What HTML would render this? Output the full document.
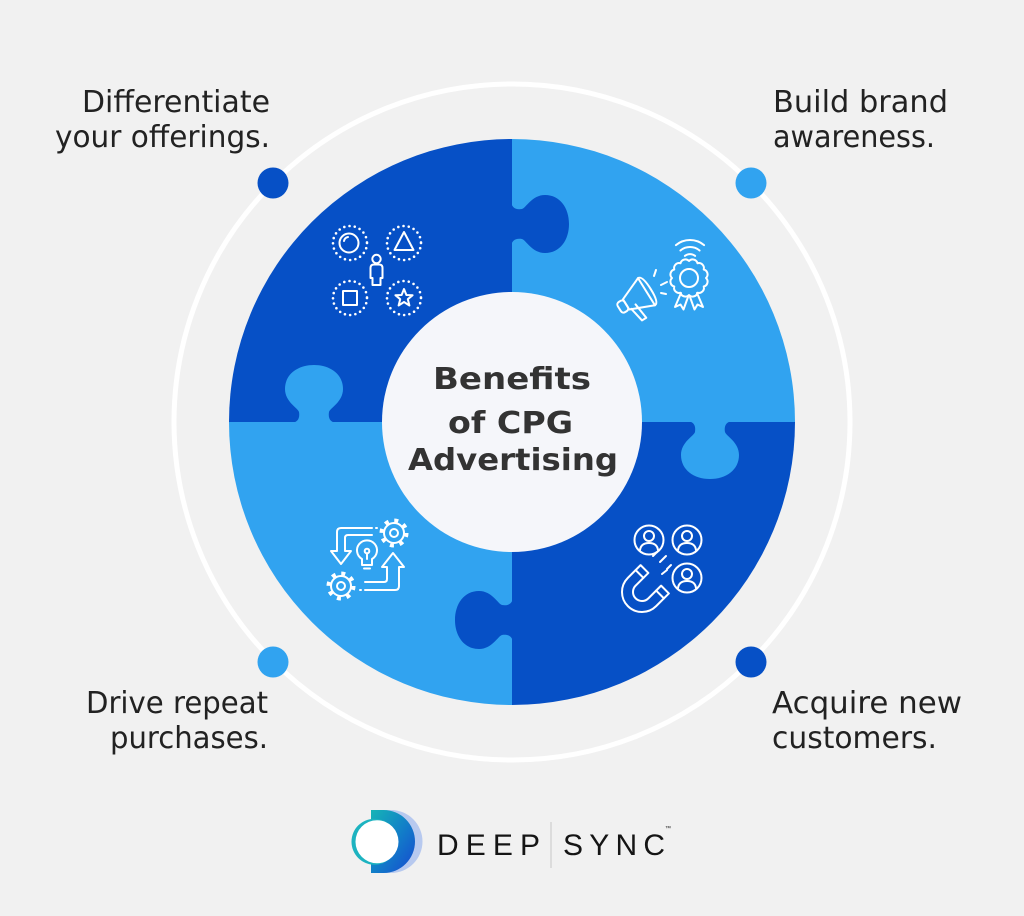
<!DOCTYPE html>
<html>
<head>
<meta charset="utf-8">
<style>
  html,body{margin:0;padding:0;background:#f1f1f1;}
  svg{display:block;}
</style>
</head>
<body>
<svg width="1024" height="916" viewBox="0 0 1024 916" xmlns="http://www.w3.org/2000/svg">
  <defs>
    <clipPath id="c"><circle cx="512" cy="422" r="283"/></clipPath>
    <path id="knob" d="M-24,1 C-16,1 -14,-4 -15,-10 C-16,-14 -29,-20 -29,-33 C-29,-48 -16,-57 0,-57 C16,-57 29,-48 29,-33 C29,-20 16,-14 15,-10 C14,-4 16,1 24,1 Z"/>
    <linearGradient id="lg" x1="0" y1="0" x2="1" y2="1">
      <stop offset="0" stop-color="#16b4b6"/>
      <stop offset="0.5" stop-color="#1280c8"/>
      <stop offset="1" stop-color="#1548d0"/>
    </linearGradient>
  </defs>

  <rect width="1024" height="916" fill="#f1f1f1"/>

  <!-- outer ring -->
  <circle cx="512" cy="422" r="338" fill="none" stroke="#ffffff" stroke-width="5"/>
  <circle cx="273" cy="183" r="15.5" fill="#0650c6"/>
  <circle cx="751" cy="183" r="15.5" fill="#31a3f0"/>
  <circle cx="273" cy="662" r="15.5" fill="#31a3f0"/>
  <circle cx="751" cy="662" r="15.5" fill="#0650c6"/>

  <!-- puzzle -->
  <g clip-path="url(#c)">
    <rect x="229" y="139" width="283" height="283" fill="#0650c6"/>
    <rect x="512" y="139" width="284" height="283" fill="#31a3f0"/>
    <rect x="229" y="422" width="283" height="285" fill="#31a3f0"/>
    <rect x="512" y="422" width="284" height="285" fill="#0650c6"/>
    <use href="#knob" transform="translate(314,422)" fill="#31a3f0"/>
    <use href="#knob" transform="translate(512,224) rotate(90)" fill="#0650c6"/>
    <use href="#knob" transform="translate(710,422) rotate(180)" fill="#31a3f0"/>
    <use href="#knob" transform="translate(512,620) rotate(-90)" fill="#0650c6"/>
  </g>

  <!-- center -->
  <circle cx="512" cy="422" r="130" fill="#f5f6fa"/>
  <g font-family="'DejaVu Sans', 'Liberation Sans', sans-serif" font-weight="bold" font-size="30" fill="#333333" text-anchor="middle">
    <text x="512" y="389" textLength="158" lengthAdjust="spacingAndGlyphs">Benefits</text>
    <text x="510.5" y="433" textLength="125" lengthAdjust="spacingAndGlyphs">of CPG</text>
    <text x="513" y="470" textLength="210" lengthAdjust="spacingAndGlyphs">Advertising</text>
  </g>

  <!-- labels -->
  <g font-family="'DejaVu Sans', 'Liberation Sans', sans-serif" font-size="30" fill="#222222">
    <text x="270" y="112" text-anchor="end" textLength="188" lengthAdjust="spacingAndGlyphs">Differentiate</text>
    <text x="270" y="147" text-anchor="end" textLength="215" lengthAdjust="spacingAndGlyphs">your offerings.</text>
    <text x="773" y="112" textLength="175" lengthAdjust="spacingAndGlyphs">Build brand</text>
    <text x="773" y="147" textLength="162" lengthAdjust="spacingAndGlyphs">awareness.</text>
    <text x="268" y="713" text-anchor="end" textLength="182" lengthAdjust="spacingAndGlyphs">Drive repeat</text>
    <text x="268" y="748" text-anchor="end" textLength="158" lengthAdjust="spacingAndGlyphs">purchases.</text>
    <text x="772" y="713" textLength="190" lengthAdjust="spacingAndGlyphs">Acquire new</text>
    <text x="772" y="748" textLength="165" lengthAdjust="spacingAndGlyphs">customers.</text>
  </g>

  <!-- TL icon -->
  <g fill="none" stroke="#ffffff" stroke-width="2" stroke-linecap="round" stroke-linejoin="round">
    <g stroke-width="2.6" stroke-dasharray="0 5.3">
      <circle cx="350" cy="243" r="17"/>
      <circle cx="404" cy="243" r="17"/>
      <circle cx="350" cy="298" r="17"/>
      <circle cx="404" cy="298" r="17"/>
    </g>
    <circle cx="349" cy="243" r="9.5"/>
    <path d="M344,241 A5,5 0 0 1 348,237"/>
    <path d="M404,232 L394.5,250 L413.5,250 Z"/>
    <rect x="343" y="291" width="14" height="14"/>
    <path d="M404,289 L406.4,295 L412.6,295.2 L407.8,299.2 L409.4,305.5 L404,302 L398.6,305.5 L400.2,299.2 L395.4,295.2 L401.6,295 Z"/>
    <circle cx="376.5" cy="259" r="4.2"/>
    <path d="M370.5,278 V268 Q370.5,264.5 374,264.5 H379 Q382.5,264.5 382.5,268 V278 H380.5 V285 H372.5 V278 Z"/>
  </g>

  <!-- TR icon -->
  <g fill="none" stroke="#ffffff" stroke-width="2" stroke-linecap="round" stroke-linejoin="round">
    <g transform="translate(638,297) rotate(-32)">
      <rect x="-22" y="-6" width="8" height="12" rx="3"/>
      <path d="M-14,-6 L10,-16 L10,16 L-14,6 Z"/>
      <path d="M10,-16 Q15,-16 15,0 Q15,16 10,16"/>
      <path d="M-12,6.5 L-9,22 L-4,22 L-6,5"/>
    </g>
    <path d="M654,276 L656,270"/>
    <path d="M661,285 L667,282"/>
    <path d="M661,293 L666,294"/>
    <path d="M706,278 A5,5 0 0 1 703.72,286.5 A5,5 0 0 1 697.5,292.72 A5,5 0 0 1 689,295 A5,5 0 0 1 680.5,292.72 A5,5 0 0 1 674.28,286.5 A5,5 0 0 1 672,278 A5,5 0 0 1 674.28,269.5 A5,5 0 0 1 680.5,263.28 A5,5 0 0 1 689,261 A5,5 0 0 1 697.5,263.28 A5,5 0 0 1 703.72,269.5 A5,5 0 0 1 706,278 Z"/>
    <circle cx="689" cy="278" r="9"/>
    <path d="M681,293 L675,307 L680.5,304.5 L683.5,309.5 L688,297"/>
    <path d="M697,293 L703,307 L697.5,304.5 L694.5,309.5 L690,297"/>
    <path d="M675.9,245.1 A22,22 0 0 1 704.1,245.1"/>
    <path d="M680.4,250.5 A15,15 0 0 1 699.6,250.5"/>
    <path d="M684.9,255.9 A8,8 0 0 1 695.1,255.9"/>
  </g>

  <!-- BL icon -->
  <g fill="none" stroke="#ffffff" stroke-width="2" stroke-linecap="round" stroke-linejoin="round">
    <circle cx="394" cy="533" r="10"/>
    <circle cx="394" cy="533" r="4"/>
    <circle cx="394" cy="533" r="12.5" stroke-width="4" stroke-dasharray="4 5.8" stroke-linecap="butt"/>
    <circle cx="341" cy="586" r="10"/>
    <circle cx="341" cy="586" r="4"/>
    <circle cx="341" cy="586" r="12.5" stroke-width="4" stroke-dasharray="4 5.8" stroke-linecap="butt"/>
    <path d="M362,559 A10,10 0 1 1 372,559 V565 H362 Z"/>
    <path d="M364,568.5 H370"/>
    <circle cx="367" cy="551" r="2.3"/>
    <path d="M367,553.5 V559"/>
    <path d="M372,528 H341 Q337,528 337,532 V551 H331 L341,564 L351,551 H345 V538 Q345,535 348,535 H372"/>
    <path d="M376,528 H377"/>
    <path d="M365,582 H384 Q387,582 387,579 V567 H382 L393,553 L404,567 H399 V586 Q399,590 395,590 H365"/>
    <path d="M360,590 H361"/>
  </g>

  <!-- BR icon -->
  <g fill="none" stroke="#ffffff" stroke-width="2" stroke-linecap="round" stroke-linejoin="round">
    <circle cx="649" cy="540" r="14.5"/>
    <circle cx="649" cy="536" r="5"/>
    <path d="M640,550 Q641,543 649,543 Q657,543 658,550"/>
    <circle cx="687" cy="540" r="14.5"/>
    <circle cx="687" cy="536" r="5"/>
    <path d="M678,550 Q679,543 687,543 Q695,543 696,550"/>
    <circle cx="687" cy="578" r="14.5"/>
    <circle cx="687" cy="574" r="5"/>
    <path d="M678,588 Q679,581 687,581 Q695,581 696,588"/>
    <g transform="translate(642,592) rotate(45)">
      <path d="M-20,-18 V0 A20,20 0 0 0 20,0 V-18 H9 V0 A9,9 0 0 1 -9,0 V-18 Z"/>
      <path d="M-20,-11 H-9 M9,-11 H20"/>
    </g>
    <path d="M653,556 L657,552"/>
    <path d="M660,562 L666,556"/>
    <path d="M667,569 L671,565"/>
    <path d="M662,574 L667,570"/>
  </g>

  <!-- logo -->
  <path d="M375,810 H391 A31.5,31.5 0 0 1 391,873 H375 Z" fill="#b7c9ef"/>
  <path d="M371,810 H383.5 A31.5,31.5 0 0 1 383.5,873 H371 Z" fill="url(#lg)"/>
  <circle cx="374.5" cy="841.7" r="23" fill="#1db3c0"/>
  <circle cx="377" cy="841.7" r="21.5" fill="#ffffff"/>
  <g font-family="'Liberation Sans', sans-serif" font-size="30" fill="#151515">
    <text x="437" y="855" textLength="103" lengthAdjust="spacing">DEEP</text>
    <text x="563" y="855" textLength="102" lengthAdjust="spacing">SYNC</text>
    <text x="665" y="830" font-size="6">™</text>
  </g>
  <line x1="551" y1="822" x2="551" y2="868" stroke="#c8c8c8" stroke-width="1"/>
</svg>
</body>
</html>
